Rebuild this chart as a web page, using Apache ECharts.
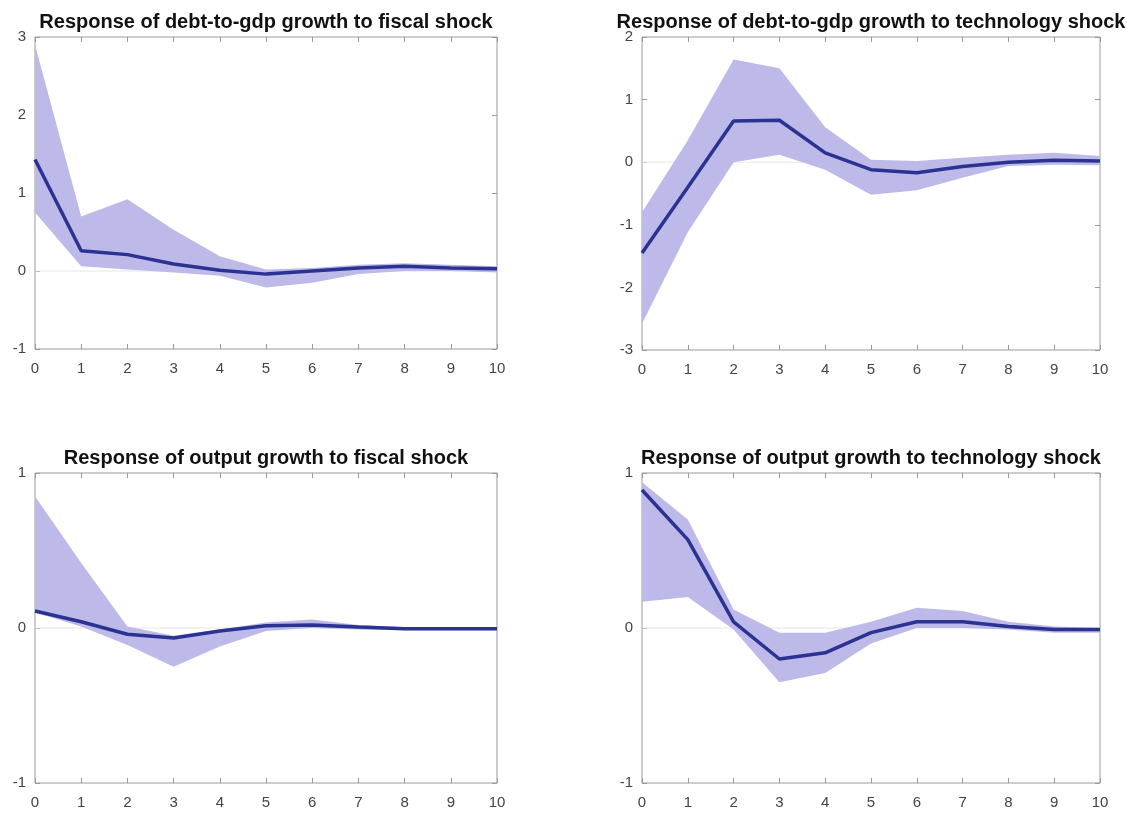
<!DOCTYPE html>
<html>
<head>
<meta charset="utf-8">
<script src="https://cdn.jsdelivr.net/npm/echarts@6/dist/echarts.min.js"></script>
<style>html,body{margin:0;padding:0;background:#fff;}#c{width:1142px;height:821px;}</style>
</head>
<body>
<div id="c"></div>
<script>
// Horizons
const horizons = ['0','1','2','3','4','5','6','7','8','9','10'];

// Panel 1: debt-to-gdp growth, fiscal shock
const debtFiscalMedian = [1.43, 0.26, 0.21, 0.09, 0.01, -0.04, 0.00, 0.04, 0.06, 0.04, 0.03];
const debtFiscalUpper  = [2.90, 0.70, 0.92, 0.53, 0.19, 0.02, 0.04, 0.08, 0.10, 0.08, 0.06];
const debtFiscalLower  = [0.75, 0.06, 0.02, -0.02, -0.06, -0.21, -0.15, -0.04, 0.00, 0.00, -0.02];

// Panel 2: debt-to-gdp growth, technology shock
const debtTechMedian = [-1.45, -0.40, 0.66, 0.67, 0.15, -0.12, -0.17, -0.07, 0.00, 0.03, 0.02];
const debtTechUpper  = [-0.80, 0.35, 1.64, 1.50, 0.56, 0.04, 0.02, 0.07, 0.12, 0.15, 0.10];
const debtTechLower  = [-2.58, -1.12, 0.00, 0.12, -0.12, -0.52, -0.45, -0.25, -0.06, -0.04, -0.05];

// Panel 3: output growth, fiscal shock
const outFiscalMedian = [0.11, 0.04, -0.04, -0.065, -0.02, 0.015, 0.02, 0.006, -0.005, -0.005, -0.005];
const outFiscalUpper  = [0.85, 0.42, 0.01, -0.05, -0.01, 0.035, 0.055, 0.02, 0.005, 0.004, 0.004];
const outFiscalLower  = [0.10, 0.01, -0.11, -0.25, -0.12, -0.02, 0.00, -0.01, -0.015, -0.015, -0.015];

// Panel 4: output growth, technology shock
const outTechMedian = [0.89, 0.57, 0.04, -0.20, -0.16, -0.03, 0.04, 0.04, 0.01, -0.01, -0.01];
const outTechUpper  = [0.94, 0.70, 0.12, -0.03, -0.03, 0.04, 0.13, 0.11, 0.04, 0.01, 0.00];
const outTechLower  = [0.17, 0.20, -0.01, -0.35, -0.29, -0.10, 0.00, 0.00, -0.01, -0.03, -0.03];

// Titles and y ranges
const titles = [
  'Response of debt-to-gdp growth to fiscal shock',
  'Response of debt-to-gdp growth to technology shock',
  'Response of output growth to fiscal shock',
  'Response of output growth to technology shock'
];
const yMins = [-1, -3, -1, -1];
const yMaxs = [3, 2, 1, 1];

const panels = [
  {median: debtFiscalMedian, upper: debtFiscalUpper, lower: debtFiscalLower},
  {median: debtTechMedian, upper: debtTechUpper, lower: debtTechLower},
  {median: outFiscalMedian, upper: outFiscalUpper, lower: outFiscalLower},
  {median: outTechMedian, upper: outTechUpper, lower: outTechLower}
];

const grids = [
  {left: 35, top: 37, width: 462, height: 312},
  {left: 642, top: 37, width: 458, height: 313},
  {left: 35, top: 473, width: 462, height: 310},
  {left: 642, top: 473, width: 458, height: 310}
];

const bandColor = '#bdb9e9';
const lineColor = '#2a3391';
const boxColor = '#9a9a9a';
const labelColor = '#444';

const xAxes = [], yAxes = [], series = [], graphics = [];
grids.forEach((g, i) => {
  g.show = true; g.borderColor = boxColor; g.borderWidth = 1; g.backgroundColor = '#fff';
  xAxes.push({
    gridIndex: i, type: 'category', data: horizons, boundaryGap: false,
    axisLine: {show: false, onZero: false},
    axisTick: {show: true, inside: true, length: 5, lineStyle: {color: boxColor}},
    axisLabel: {color: labelColor, fontSize: 15, margin: 12, fontFamily: 'Liberation Sans'},
    splitLine: {show: false}
  });
  xAxes.push({
    gridIndex: i, type: 'category', data: horizons, boundaryGap: false, position: 'top',
    axisLine: {show: false, onZero: false},
    axisTick: {show: true, inside: true, length: 5, lineStyle: {color: boxColor}},
    axisLabel: {show: false}, splitLine: {show: false}
  });
  yAxes.push({
    gridIndex: i, type: 'value', min: yMins[i], max: yMaxs[i], interval: 1,
    axisLine: {show: false, onZero: false},
    axisTick: {show: true, inside: true, length: 5, lineStyle: {color: boxColor}},
    axisLabel: {color: labelColor, fontSize: 15, margin: 9, fontFamily: 'Liberation Sans'},
    splitLine: {show: false}
  });
  yAxes.push({
    gridIndex: i, type: 'value', min: yMins[i], max: yMaxs[i], interval: 1, position: 'right',
    axisLine: {show: false, onZero: false},
    axisTick: {show: true, inside: true, length: 5, lineStyle: {color: boxColor}},
    axisLabel: {show: false}, splitLine: {show: false}
  });
  const p = panels[i];
  const diff = p.upper.map((u, k) => +(u - p.lower[k]).toFixed(4));
  const xi = i * 2, yi = i * 2;
  series.push({
    type: 'line', xAxisIndex: xi, yAxisIndex: yi, data: p.lower, stack: 'band' + i,
    stackStrategy: 'all', symbol: 'none', lineStyle: {opacity: 0}, silent: true, z: 1
  });
  series.push({
    type: 'line', xAxisIndex: xi, yAxisIndex: yi, data: diff, stack: 'band' + i,
    stackStrategy: 'all', symbol: 'none', lineStyle: {opacity: 0},
    areaStyle: {color: bandColor, opacity: 1}, silent: true, z: 2
  });
  series.push({
    type: 'line', xAxisIndex: xi, yAxisIndex: yi, data: p.median.map(() => 0),
    symbol: 'none', lineStyle: {color: '#e6e6e6', width: 1}, silent: true, z: 1
  });
  series.push({
    type: 'line', xAxisIndex: xi, yAxisIndex: yi, data: p.median,
    symbol: 'none', lineStyle: {color: lineColor, width: 3.5}, z: 3
  });
  graphics.push({
    type: 'text', x: g.left + g.width / 2, y: g.top - 15,
    style: {text: titles[i], align: 'center', verticalAlign: 'middle',
      font: 'bold 20px "Liberation Sans", Arial, sans-serif', fill: '#111'}
  });
});

const chart = echarts.init(document.getElementById('c'), null, {renderer: 'canvas'});
chart.setOption({
  backgroundColor: '#fff',
  animation: false,
  grid: grids,
  xAxis: xAxes,
  yAxis: yAxes,
  series: series,
  graphic: graphics
});
</script>
</body>
</html>
